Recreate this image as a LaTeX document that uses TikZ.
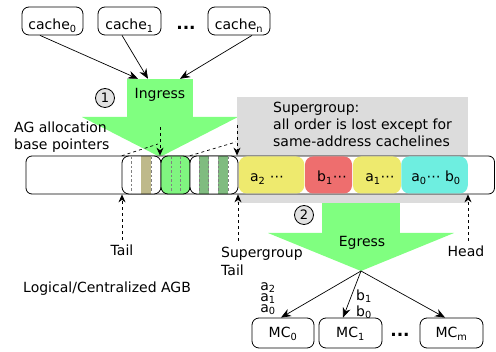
\documentclass[tikz,border=0pt]{standalone}
\usepackage{fontspec}
\setmainfont{DejaVu Sans}
\usetikzlibrary{arrows.meta,calc}
\definecolor{agreen}{HTML}{80FF80}
\definecolor{lgreen}{HTML}{80F580}
\definecolor{mgreen}{HTML}{80BC80}
\definecolor{khaki}{HTML}{BEB98A}
\definecolor{sgrey}{HTML}{DCDCDC}
\definecolor{cgrey}{HTML}{E2E2E2}
\definecolor{syellow}{HTML}{EEEA6E}
\definecolor{sred}{HTML}{EE6E6E}
\definecolor{scyan}{HTML}{6EEEE0}
\begin{document}
\begin{tikzpicture}[x=1pt,y=-1pt,
  every node/.style={inner sep=0pt},
  font=\fontsize{14}{17}\selectfont,
  rbox/.style={draw, rounded corners=7pt, line width=0.8pt},
  seg/.style={rounded corners=8pt, minimum height=37pt},
  darr/.style={dashed, line width=0.7pt, -{Stealth[length=8pt,width=7pt]}},
  sarr/.style={line width=0.7pt, -{Stealth[length=10pt,width=8pt]}},
  inl/.style={gray, line width=0.6pt, dash pattern=on 2.5pt off 2pt},
  numc/.style={circle, draw, fill=cgrey, line width=0.8pt, minimum size=19pt, font=\fontsize{13}{15}\selectfont},
  bigdots/.style={anchor=base, font=\fontsize{17}{17}\selectfont\bfseries},
]
\useasboundingbox (0,0) rectangle (496,352);

% Egress arrow (under grey box)
\node[fill=agreen, minimum width=78pt, minimum height=32pt] (egress) at (361,218) {};
\fill[agreen] (268,233) -- (454,233) -- (361,271) -- cycle;
\coordinate (etip) at (361,271);

% Ingress arrow
\node[fill=agreen, minimum width=66pt, anchor=base, text height=20pt, text depth=19pt] (ingress) at (160,99) {Ingress};
\fill[agreen] (82,117) -- (238,117) -- (160,157) -- cycle;

% Supergroup grey area
\fill[sgrey] (237,97) rectangle (468,203);
\node[anchor=north west, align=left] (sgtext) at (273,101.5)
  {Supergroup:\\all order is lost except for\\same-address cachelines};

% Buffer
\node[rbox, rounded corners=6pt, fill=white, minimum width=468.5pt, minimum height=38pt] (buf) at (260.25,175) {};

% Tail group
\node[fill=white, rounded corners=7pt, minimum width=39pt, minimum height=38pt] (g1) at (141.5,175) {};
\fill[khaki] (141,156.4) rectangle (151,193.6);
\draw[inl] (131,157) -- (131,193);
\draw[inl] (151,157) -- (151,193);
\node[rbox, minimum width=39pt, minimum height=38pt] at (141.5,175) {};

% green group
\node[rbox, fill=lgreen, minimum width=29pt, minimum height=38pt] (g2) at (175.5,175) {};
\draw[inl] (171,157) -- (171,193);
\draw[inl] (180,157) -- (180,193);

% third group
\node[fill=white, rounded corners=7pt, minimum width=48pt, minimum height=38pt] (g3) at (214,175) {};
\fill[mgreen] (199,156.4) rectangle (208.5,193.6);
\fill[mgreen] (218,156.4) rectangle (228,193.6);
\foreach \xx in {199,208.5,218,228} \draw[inl] (\xx,157) -- (\xx,193);
\node[rbox, minimum width=48pt, minimum height=38pt] at (214,175) {};

% coloured supergroup segments
\node[seg, fill=syellow, minimum width=65.5pt] (s1) at (271.5,175) {};
\node[seg, fill=sred, minimum width=47pt] (s2) at (328.5,175) {};
\node[seg, fill=syellow, minimum width=48pt] (s3) at (377,175) {};
\node[seg, fill=scyan, minimum width=66.5pt] (s4) at (434.5,175) {};
\node[anchor=base] (t1) at (267,182) {a\textsubscript{2} ⋯};
\node[anchor=base] (t2) at (332,182) {b\textsubscript{1}⋯};
\node[anchor=base] (t3) at (380,182) {a\textsubscript{1}⋯};
\node[anchor=base] (t4) at (436,182) {a\textsubscript{0}⋯ b\textsubscript{0}};

% pointers above buffer
\coordinate (pa) at (160,127);
\coordinate (pb) at (237,125);
\draw[darr] (pa) -- (pa |- buf.north);
\draw[darr] (pb) -- (pb |- buf.north);
\coordinate (qa) at (158,144);
\coordinate (qb) at (236,142);
\draw[dashed, line width=0.7pt] (g1.north west) -- (qa);
\draw[dashed, line width=0.7pt] (g3.north west) -- (qb);

% pointers below buffer
\coordinate (ta) at (122,240);
\coordinate (tb) at (238,241);
\coordinate (tc) at (468,241);
\draw[darr] (ta) -- (ta |- buf.south);
\draw[darr] (tb) -- (tb |- buf.south);
\draw[darr] (tc) -- (tc |- buf.south);
\node[anchor=base] (ltail) at (122,256) {Tail};
\node[anchor=base west] (lsg) at (221,258) {Supergroup};
\node[anchor=base west] (lsgt) at (221,276) {Tail};
\node[anchor=base] (lhead) at (466,257) {Head};
\node[anchor=base west] (lagb) at (23,293) {Logical/Centralized AGB};
\node[anchor=base west] (lag1) at (14,133) {AG allocation};
\node[anchor=base west] (lag2) at (14,150) {base pointers};

% circles
\node[numc] (n1) at (105,98) {1};
\node[numc] (n2) at (304,215) {2};
\node[anchor=base] (egl) at (362,247) {Egress};

% caches
\node[rbox, anchor=base, minimum width=61pt, text height=23pt, text depth=5pt] (c0) at (52.5,30) {cache\textsubscript{0}};
\node[rbox, anchor=base, minimum width=63pt, text height=23pt, text depth=5pt] (c1) at (129.5,30) {cache\textsubscript{1}};
\node[rbox, anchor=base, minimum width=62pt, text height=23pt, text depth=5pt] (cn) at (239,30) {cache\textsubscript{n}};
\node[bigdots] (cdots) at (186,30) {...};
\draw[sarr] ([xshift=-12.5pt]c0.south) -- ([xshift=-22pt]ingress.north);
\draw[sarr] ([xshift=-7.5pt]c1.south) -- ([xshift=-12pt]ingress.north);
\draw[sarr] ([xshift=13pt]cn.south) -- ([xshift=20pt]ingress.north);

% memory controllers
\node[rbox, anchor=base, minimum width=62pt, text height=20pt, text depth=10pt] (mc0) at (283,338) {MC\textsubscript{0}};
\node[rbox, anchor=base, minimum width=63pt, text height=20pt, text depth=10pt] (mc1) at (350.5,338) {MC\textsubscript{1}};
\node[rbox, anchor=base, minimum width=63pt, text height=20pt, text depth=10pt] (mcm) at (451.5,338) {MC\textsubscript{m}};
\node[bigdots] (mdots) at (400,337) {...};
\draw[sarr] (etip) -- ([xshift=-2pt]mc0.north);
\draw[sarr] (etip) -- ([xshift=-7.5pt]mc1.north);
\draw[sarr] (etip) -- ([xshift=-6.5pt]mcm.north);
\node[align=center, font=\fontsize{14}{11}\selectfont] (alab) at (268,298.5) {a\textsubscript{2}\\a\textsubscript{1}\\a\textsubscript{0}};
\node[align=center, font=\fontsize{14}{16}\selectfont] (blab) at (364,304.5) {b\textsubscript{1}\\b\textsubscript{0}};
\end{tikzpicture}
\end{document}
